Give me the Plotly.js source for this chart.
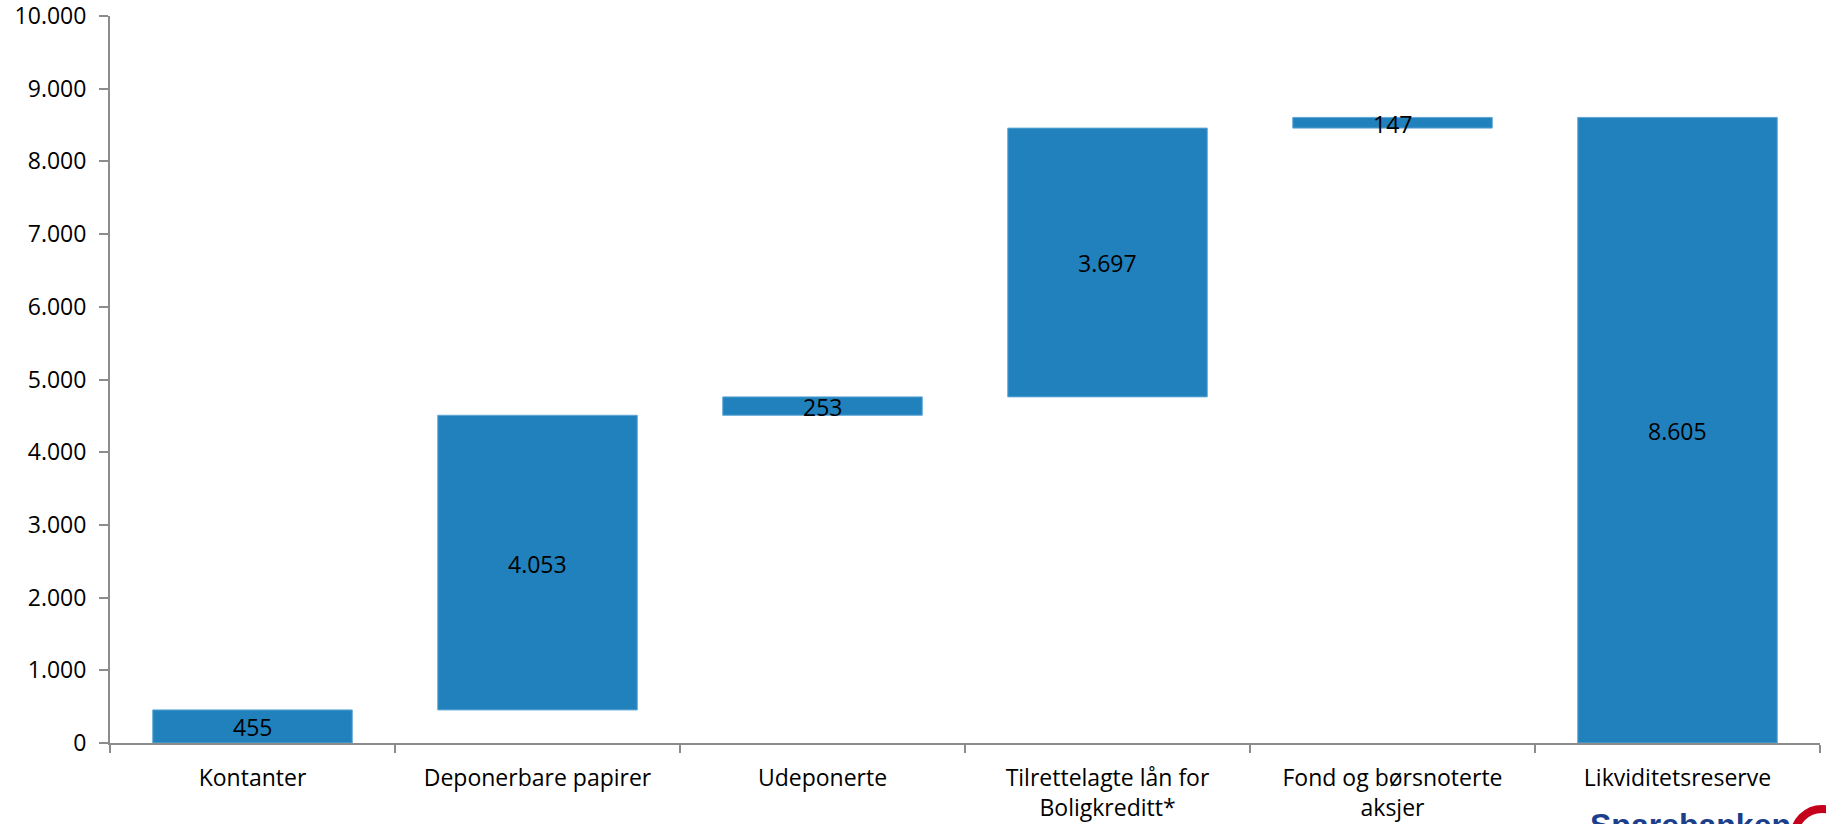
<!DOCTYPE html>
<html>
<head>
<meta charset="utf-8">
<script src="https://cdn.plot.ly/plotly-3.0.1.min.js"></script>
<style>html,body{margin:0;padding:0;background:#fff;overflow:hidden}#chart{width:1826px;height:824px}</style>
</head>
<body>
<div id="chart"></div>
<script>
const categories = ["Kontanter", "Deponerbare papirer", "Udeponerte", "Tilrettelagte lån for<br>Boligkreditt*", "Fond og børsnoterte<br>aksjer", "Likviditetsreserve"];
const values = [455, 4053, 253, 3697, 147, 8605];
const isTotal = [false, false, false, false, false, true];
const labels = ["455", "4.053", "253", "3.697", "147", "8.605"];
const yTicks = [0, 1000, 2000, 3000, 4000, 5000, 6000, 7000, 8000, 9000, 10000];
const yTickText = ["0", "1.000", "2.000", "3.000", "4.000", "5.000", "6.000", "7.000", "8.000", "9.000", "10.000"];

const bases = [];
let run = 0;
values.forEach((v, i) => {
  if (isTotal[i]) { bases.push(0); }
  else { bases.push(run); run += v; }
});
const mids = values.map((v, i) => bases[i] + v / 2);

const font = "'Open Sans', 'Liberation Sans', sans-serif";
const axisColor = "#8c8c8c";

const traces = [
  {
    type: "bar",
    x: categories,
    y: values,
    base: bases,
    marker: { color: "#2181bd", line: { color: "#5fa7d6", width: 1 } },
    width: 0.7,
    hoverinfo: "skip",
    showlegend: false
  }
];

const valueAnnotations = categories.map((c, i) => ({
  x: c, y: mids[i], xref: "x", yref: "y",
  text: labels[i], showarrow: false,
  xanchor: "center", yanchor: "middle", yshift: -1,
  font: { family: font, size: 23, color: "#000" }
}));

const layout = {
  width: 1826,
  height: 824,
  margin: { l: 110, r: 6, t: 16, b: 81 },
  paper_bgcolor: "#fff",
  plot_bgcolor: "#fff",
  showlegend: false,
  xaxis: {
    type: "category",
    showgrid: false,
    zeroline: false,
    showline: true,
    linecolor: axisColor,
    linewidth: 2,
    ticks: "outside",
    tickson: "boundaries",
    ticklen: 8,
    tickwidth: 2,
    tickcolor: axisColor,
    tickfont: { family: font, size: 23, color: "#000" },
    ticklabelstandoff: 13,
    fixedrange: true
  },
  yaxis: {
    range: [0, 10000],
    tickvals: yTicks,
    ticktext: yTickText,
    showgrid: false,
    zeroline: false,
    showline: true,
    linecolor: axisColor,
    linewidth: 2,
    ticks: "outside",
    ticklen: 9,
    tickwidth: 2,
    tickcolor: axisColor,
    tickfont: { family: font, size: 23, color: "#000" },
    ticklabelstandoff: 8,
    ticklabeloverflow: "allow",
    fixedrange: true
  },
  annotations: valueAnnotations.concat([
    {
      xref: "paper", yref: "paper",
      x: (1588 - 110) / 1710, y: (743 - 825) / 727,
      xanchor: "left", yanchor: "middle",
      text: "<b>Sparebanken</b>",
      showarrow: false,
      font: { family: "'Liberation Sans', Arial, sans-serif", size: 32, color: "#1b3f8b" }
    }
  ]),
  shapes: [
    {
      type: "circle",
      xref: "paper", yref: "paper",
      x0: (1794 - 110) / 1710, x1: (1850 - 110) / 1710,
      y0: (743 - 809) / 727, y1: (743 - 865) / 727,
      line: { color: "#c4001a", width: 8 },
      fillcolor: "rgba(0,0,0,0)"
    }
  ]
};

Plotly.newPlot("chart", traces, layout, { displayModeBar: false, staticPlot: true });
</script>
</body>
</html>
